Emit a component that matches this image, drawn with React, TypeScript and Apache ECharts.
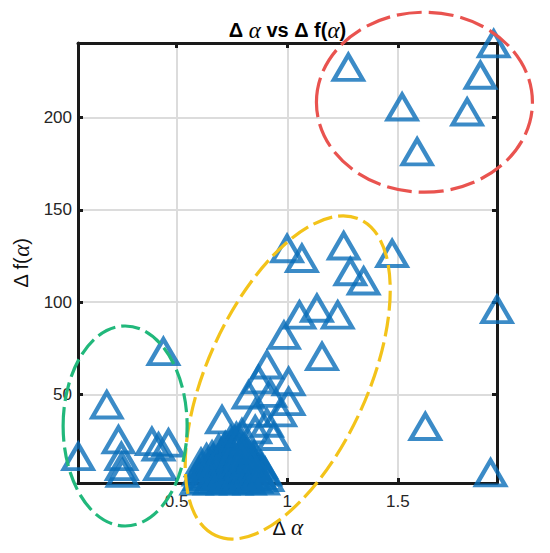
import React, { useEffect, useRef } from "react";
import * as echarts from "echarts";

// axis ranges and ticks
const xRange = [0.054, 1.948];
const yRange = [2, 240.5];
const xTicks = [0.5, 1, 1.5];
const yTicks = [50, 100, 150, 200];

// group near the origin (green ellipse)
const groupLow: [number, number][] = [
  [0.055, 16.3], [0.184, 44.3], [0.237, 25.4], [0.25, 16.3], [0.252, 10.9],
  [0.255, 7.3], [0.388, 24.4], [0.418, 21.5], [0.463, 23.6], [0.425, 10.9], [0.44, 73.2],
];

// dense block of points at small values
const groupDense: [number, number][] = [
  [0.59, 3], [0.62, 4], [0.65, 3], [0.68, 4], [0.71, 3], [0.74, 4], [0.77, 3], [0.8, 4],
  [0.83, 3], [0.86, 4], [0.89, 3], [0.91, 5],
  [0.605, 5.5], [0.635, 6], [0.665, 5.5], [0.695, 6], [0.725, 5.5], [0.755, 6], [0.785, 5.5],
  [0.815, 6], [0.845, 5.5], [0.875, 6],
  [0.6, 8], [0.63, 7], [0.66, 9], [0.69, 7], [0.72, 8], [0.75, 9], [0.78, 7], [0.81, 8],
  [0.84, 9], [0.87, 7], [0.9, 8],
  [0.615, 10.5], [0.645, 10], [0.675, 11], [0.705, 10], [0.735, 11], [0.765, 10], [0.795, 11],
  [0.825, 10], [0.855, 11], [0.885, 10],
  [0.61, 13], [0.64, 12], [0.67, 14], [0.7, 12], [0.73, 13], [0.76, 14], [0.79, 12],
  [0.82, 13], [0.85, 14], [0.88, 12],
  [0.635, 15.5], [0.665, 15], [0.695, 16], [0.725, 15], [0.755, 16], [0.785, 15], [0.815, 16],
  [0.845, 15],
  [0.66, 17], [0.7, 18], [0.73, 19], [0.76, 17], [0.79, 18], [0.82, 19], [0.85, 17],
  [0.69, 20.5], [0.715, 21], [0.745, 20], [0.775, 21], [0.805, 20],
  [0.72, 22], [0.75, 24], [0.78, 23], [0.8, 21], [0.745, 25.5], [0.765, 25], [0.785, 26],
  [0.77, 27], [0.795, 29],
];

// rising group (yellow ellipse)
const groupMid: [number, number][] = [
  [0.705, 36.2], [0.855, 30.8], [0.938, 27.2], [0.908, 34.4], [0.968, 40], [0.855, 39.8],
  [0.825, 49.7], [0.923, 50.6], [1.006, 46.1], [0.87, 57.9], [1.006, 56.9], [0.908, 66.0],
  [0.985, 82], [1.157, 70.5], [1.055, 93], [1.134, 96.7], [1.228, 93],
  [0.999, 129], [1.066, 123.7], [1.255, 130.5], [1.474, 126.4], [1.285, 116.5], [1.345, 111.5],
];

// high group (red ellipse)
const groupHigh: [number, number][] = [
  [1.276, 227.3], [1.519, 205.8], [1.587, 181.5], [1.813, 203.1], [1.873, 223], [1.933, 240],
];

// isolated points
const groupOther: [number, number][] = [
  [1.948, 96], [1.919, 7.5], [1.624, 32.6],
];

// ellipse annotations: centre in data units
const ellipseCentres: [number, number][] = [[1.62, 208.4], [1.002, 59.2], [0.267, 32.9]];

export default function App() {
  const ref = useRef<HTMLDivElement>(null);
  useEffect(() => {
    if (!ref.current) return;
    const chart = echarts.init(ref.current, undefined, { renderer: "svg" });
    const ellipseRadii = [[108, 90], [173.7, 80.1], [62, 100]];
    const ellipseRot = [0, 65.5, 0];
    const ellipseColor = ["#E9534F", "#F3C31A", "#21B87B"];
    const ellipseDash = [[25, 7], [20, 6], [19, 6]];
    const sans = "'Liberation Sans', Arial, Helvetica, sans-serif";
    const serif = "'Liberation Serif', 'DejaVu Serif', serif";
    const labelColor = "#262626";
    const richBase = (size: number, weight: string) => ({
      s: { fontFamily: sans, fontSize: size, fontWeight: weight, color: "#111" },
      g: { fontFamily: serif, fontSize: size + 3, fontStyle: "italic", fontWeight: "normal", color: "#111" },
    });
    const allPoints = [...groupLow, ...groupDense, ...groupMid, ...groupHigh, ...groupOther];
    const axisLine = { show: true, onZero: false, lineStyle: { color: "#1a1a1a", width: 3 } };
    const tickStyle = { lineStyle: { color: "#1a1a1a", width: 3 } };
    chart.setOption({
      animation: false,
      backgroundColor: "#fff",
      grid: { left: 78, right: 53, top: 43, bottom: 70, containLabel: false },
      graphic: [
        {
          type: "text",
          x: 287.5,
          y: 30,
          style: {
            text: "{s|Δ }{g|α}{s| vs Δ f(}{g|α}{s|)}",
            rich: richBase(20, "bold"),
            align: "center",
            verticalAlign: "middle",
          },
          z: 100,
        },
      ],
      xAxis: [
        {
          type: "value",
          min: xRange[0],
          max: xRange[1],
          position: "bottom",
          axisLine,
          axisTick: { show: true, inside: true, length: 5, customValues: xTicks, ...tickStyle },
          axisLabel: { customValues: xTicks, color: labelColor, fontSize: 17, fontFamily: sans, margin: 10 },
          splitLine: { show: true, lineStyle: { color: "#dcdcdc", width: 2 } },
          name: "{s|Δ }{g|α}",
          nameLocation: "middle",
          nameGap: 33,
          nameTextStyle: { rich: richBase(20, "normal") },
        },
        {
          type: "value",
          min: xRange[0],
          max: xRange[1],
          position: "top",
          axisLine,
          axisTick: { show: true, inside: true, length: 5, customValues: xTicks, ...tickStyle },
          axisLabel: { show: false, customValues: xTicks },
          splitLine: { show: false },
        },
      ],
      yAxis: [
        {
          type: "value",
          min: yRange[0],
          max: yRange[1],
          position: "left",
          axisLine,
          axisTick: { show: true, inside: true, length: 5, customValues: yTicks, ...tickStyle },
          axisLabel: { customValues: yTicks, color: labelColor, fontSize: 17, fontFamily: sans, margin: 6 },
          splitLine: { show: true, lineStyle: { color: "#dcdcdc", width: 2 } },
          name: "{s|Δ f(}{g|α}{s|)}",
          nameLocation: "middle",
          nameGap: 41,
          nameRotate: 90,
          nameTextStyle: { rich: richBase(20, "normal") },
        },
        {
          type: "value",
          min: yRange[0],
          max: yRange[1],
          position: "right",
          axisLine,
          axisTick: { show: true, inside: true, length: 5, customValues: yTicks, ...tickStyle },
          axisLabel: { show: false, customValues: yTicks },
          splitLine: { show: false },
        },
      ],
      series: [
        {
          type: "scatter",
          xAxisIndex: 0,
          yAxisIndex: 0,
          clip: false,
          symbol: "triangle",
          symbolSize: [29, 25],
          itemStyle: { color: "rgba(0,0,0,0)", borderColor: "#0A6EB9", borderWidth: 4.2 },
          data: allPoints,
          z: 5,
        },
        {
          type: "custom",
          xAxisIndex: 0,
          yAxisIndex: 0,
          clip: false,
          data: ellipseCentres,
          z: 10,
          renderItem: (params: any, api: any) => {
            const i = params.dataIndex;
            const p = api.coord([api.value(0), api.value(1)]);
            return {
              type: "ellipse",
              x: p[0],
              y: p[1],
              rotation: (ellipseRot[i] * Math.PI) / 180,
              shape: { cx: 0, cy: 0, rx: ellipseRadii[i][0], ry: ellipseRadii[i][1] },
              style: { fill: "none", stroke: ellipseColor[i], lineWidth: 3.2, lineDash: ellipseDash[i] },
            };
          },
        },
      ],
    });
    return () => chart.dispose();
  }, []);
  return (
    <div
      ref={ref}
      style={{ position: "fixed", left: 0, top: 0, width: 550, height: 553, background: "#fff" }}
    />
  );
}
